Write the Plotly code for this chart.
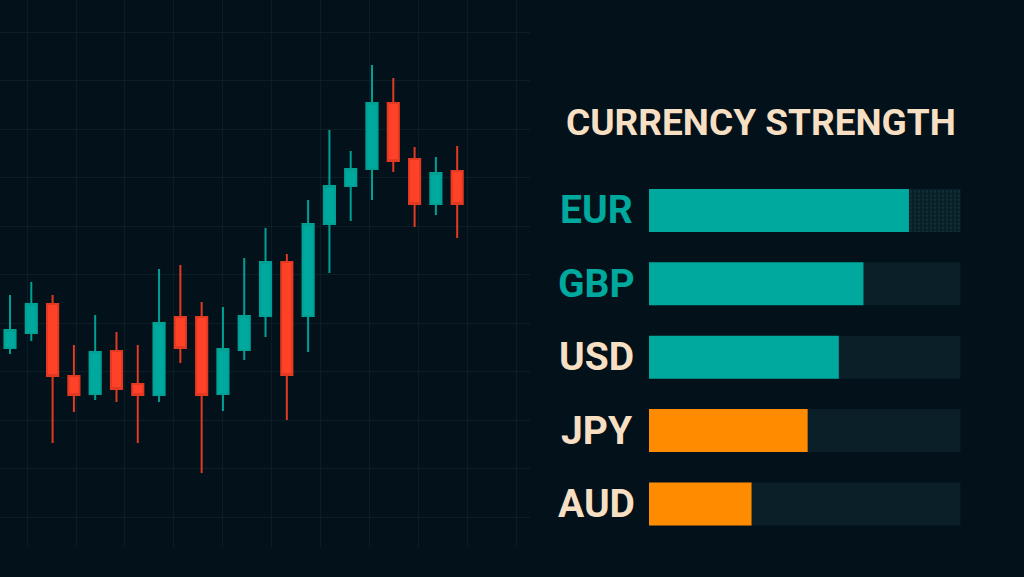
import plotly.graph_objects as go

# ---- candlestick data (price units) ----
idx = list(range(22))
opens  = [25.2, 26.7, 29.6, 22.4, 20.6, 24.9, 21.6, 20.5, 28.3, 28.3, 20.6,
          25.0, 28.4, 33.8, 28.4, 37.6, 41.4, 43.1, 49.7, 44.1, 39.6, 42.9]
highs  = [30.5, 31.8, 30.5, 25.5, 28.5, 26.8, 25.5, 33.1, 33.5, 29.8, 29.3,
          34.2, 37.2, 34.6, 40.0, 47.0, 44.9, 53.5, 52.2, 45.3, 44.3, 45.4]
lows   = [24.6, 25.9, 15.7, 18.8, 20.0, 19.8, 15.7, 19.8, 23.7, 12.7, 18.9,
          24.0, 26.3, 18.0, 24.8, 32.7, 37.9, 40.0, 42.8, 37.3, 38.5, 36.2]
closes = [27.0, 29.6, 22.4, 20.5, 24.8, 21.1, 20.5, 27.7, 25.2, 20.5, 25.1,
          28.4, 33.8, 22.5, 37.6, 41.4, 43.1, 49.7, 43.9, 39.6, 42.7, 39.6]

# ---- currency strength data ----
currencies = ["EUR", "GBP", "USD", "JPY", "AUD"]
strength = [83.4, 68.8, 60.9, 50.9, 32.9]
max_strength = [100, 100, 100, 100, 100]
title_text = "CURRENCY STRENGTH"

BG = "#02111a"
GRID = "#0c1e25"
TEAL = "#00a99d"
RED = "#ff4128"
ORANGE = "#ff8c00"
TRACK = "#0a1f28"
CREAM = "#f6dfc2"

bar_colors = [TEAL, TEAL, TEAL, ORANGE, ORANGE]
label_colors = [TEAL, TEAL, CREAM, CREAM, CREAM]

fig = go.Figure()

fig.add_trace(go.Candlestick(
    x=idx, open=opens, high=highs, low=lows, close=closes,
    increasing=dict(fillcolor=TEAL, line=dict(color="#00a095", width=2)),
    decreasing=dict(fillcolor=RED, line=dict(color="#e23a22", width=2)),
    whiskerwidth=0, xaxis="x", yaxis="y", showlegend=False, hoverinfo="skip",
))

# track bars
fig.add_trace(go.Bar(
    x=max_strength, y=currencies, orientation="h", xaxis="x2", yaxis="y2",
    marker=dict(color=TRACK, line=dict(width=0),
                pattern=dict(shape=[".", "", "", "", ""], fgcolor="#0d4f4e",
                             bgcolor=TRACK, size=4, solidity=0.2)),
    width=0.586, showlegend=False, hoverinfo="skip",
))
# value bars
fig.add_trace(go.Bar(
    x=strength, y=currencies, orientation="h", xaxis="x2", yaxis="y2",
    marker=dict(color=bar_colors, line=dict(width=0)),
    width=0.586, showlegend=False, hoverinfo="skip",
))

FONT = "Roboto, sans-serif"

annotations = [dict(
    text=title_text, x=760.5 / 1024, y=(577 - 123) / 577, xref="paper", yref="paper",
    xanchor="center", yanchor="middle", showarrow=False,
    font=dict(family=FONT, size=37, color=CREAM, weight="bold"),
)]
for c, col in zip(currencies, label_colors):
    annotations.append(dict(
        text=c, x=596.5 / 1024, y=c, xref="paper", yref="y2",
        xanchor="center", yanchor="middle", showarrow=False,
        font=dict(family=FONT, size=39, color=col, weight="bold"),
    ))

fig.update_layout(
    width=1024, height=577,
    margin=dict(l=0, r=0, t=0, b=0),
    paper_bgcolor=BG, plot_bgcolor=BG,
    barmode="overlay", boxgap=0.25,
    annotations=annotations,
    xaxis=dict(domain=[0, 530 / 1024], range=[-0.47, 24.42], showticklabels=False,
               showgrid=True, gridcolor=GRID, gridwidth=1, tick0=0.8, dtick=2.3,
               zeroline=False, rangeslider=dict(visible=False)),
    yaxis=dict(domain=[30 / 577, 1], range=[5.3, 60], showticklabels=False,
               showgrid=True, gridcolor=GRID, gridwidth=1, tick0=8.3, dtick=4.85,
               zeroline=False),
    xaxis2=dict(domain=[649 / 1024, 960.7 / 1024], range=[0, 100], visible=False,
                anchor="y2"),
    yaxis2=dict(domain=[(577 - 540.7) / 577, (577 - 173.7) / 577], autorange="reversed",
                visible=False, anchor="x2"),
)

fig.write_html(
    "out.html",
    config={"displayModeBar": False},
    post_script="document.body.style.margin='0';document.body.style.background='#02111a';",
)
